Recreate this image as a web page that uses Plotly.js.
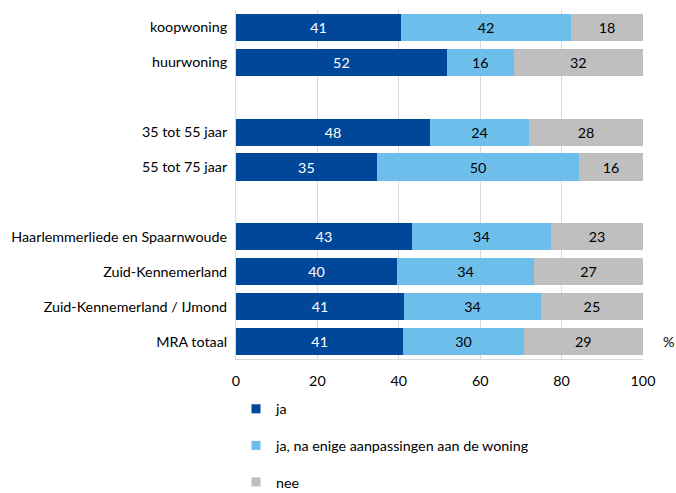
<!DOCTYPE html>
<html><head><meta charset="utf-8">
<script src="https://cdn.plot.ly/plotly-3.0.1.min.js"></script>
<style>html,body{margin:0;padding:0;background:#fff}#chart{width:676px;height:493px}</style>
</head><body><div id="chart"></div>
<script>
const categories = ['koopwoning','huurwoning',' ','35 tot 55 jaar','55 tot 75 jaar','  ','Haarlemmerliede en Spaarnwoude','Zuid-Kennemerland','Zuid-Kennemerland / IJmond','MRA totaal'];
const ja = [40.6, 51.8, null, 47.7, 34.6, null, 43.2, 39.6, 41.3, 41.1];
const jaAanpassing = [41.7, 16.4, null, 24.3, 49.7, null, 34.2, 33.6, 33.6, 29.6];
const nee = [17.7, 31.8, null, 28.0, 15.7, null, 22.6, 26.8, 25.1, 29.3];
const seriesNames = ['ja', 'ja, na enige aanpassingen aan de woning', 'nee'];
const xTicks = [0, 20, 40, 60, 80, 100];

const colors = ['#00479A', '#6EBEEC', '#BFBFBF'];
const textColors = ['#ffffff', '#000000', '#000000'];
const font = 'Lato, "Open Sans", sans-serif';
const fs = 14.3;

const traces = [ja, jaAanpassing, nee].map((vals, i) => ({
  type: 'bar', orientation: 'h',
  x: vals, y: categories, name: seriesNames[i],
  marker: {color: colors[i], line: {width: 0}},
  texttemplate: '%{x:.0f}', textposition: 'inside', insidetextanchor: 'middle',
  textfont: {color: textColors[i], size: fs, family: font},
  showlegend: false, hoverinfo: 'none'
}));
// legend entries with small square markers
seriesNames.forEach((n, i) => traces.push({
  type: 'scatter', mode: 'markers', x: [null], y: [null], name: n,
  marker: {symbol: 'square', size: 9, color: colors[i]},
  legendgroup: 'g' + i, showlegend: true, hoverinfo: 'none'
}));

// paper spans pixels 10..493; plot area ends at pixel 359
const H = 493, T = 10, plotBottom = 359;
const layout = {
  width: 676, height: H,
  margin: {l: 236, r: 33, t: T, b: 0, autoexpand: false},
  barmode: 'stack', bargap: 0.22,
  paper_bgcolor: '#fff', plot_bgcolor: '#fff',
  font: {family: font, size: fs, color: '#000'},
  xaxis: {range: [0, 100.0005], tickvals: xTicks, showgrid: true, gridcolor: '#d9d9d9', gridwidth: 1,
    zeroline: false, showline: true, linecolor: '#d9d9d9', ticks: '', ticklen: 0,
    ticklabelstandoff: 9, tickfont: {size: fs, family: font}, fixedrange: true, automargin: false},
  yaxis: {type: 'category', categoryorder: 'array', categoryarray: categories, autorange: 'reversed',
    domain: [(H - plotBottom) / (H - T), 1],
    showgrid: false, zeroline: false, showline: true, linecolor: '#d9d9d9', ticks: '', ticklen: 0,
    ticklabelstandoff: 5, tickfont: {size: fs, family: font}, automargin: false},
  showlegend: true,
  legend: {orientation: 'v', x: 0.0, xanchor: 'left', y: (H - 393) / (H - T), yanchor: 'top',
    tracegroupgap: 15, traceorder: 'grouped', font: {size: fs, family: font},
    itemwidth: 30, bgcolor: 'rgba(0,0,0,0)'},
  annotations: [{text: '%', xref: 'paper', yref: 'y', x: 1.045, y: 'MRA totaal', xanchor: 'left',
    showarrow: false, font: {size: fs, family: font}}]
};

Plotly.newPlot('chart', traces, layout, {displayModeBar: false, staticPlot: true});
</script></body></html>
